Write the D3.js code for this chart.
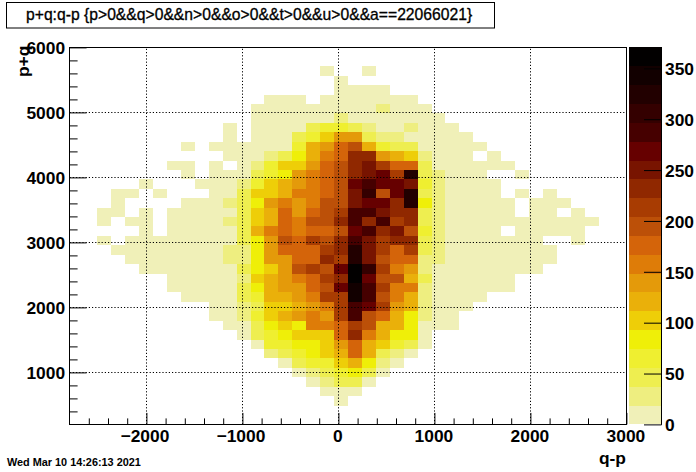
<!DOCTYPE html>
<html>
<head>
<meta charset="utf-8">
<script src="https://cdn.jsdelivr.net/npm/d3@7"></script>
<style>
html,body{margin:0;padding:0;background:#fff}
svg{display:block}
text{font-family:"Liberation Sans",Arial,sans-serif;fill:#000}
</style>
</head>
<body>
<svg id="c" width="696" height="472"></svg>
<script>
const titleText = "p+q:q-p {p>0&&q>0&&n>0&&o>0&&t>0&&u>0&&a==22066021}";
const dateText = "Wed Mar 10 14:26:13 2021";
const xLabel = "q-p";
const yLabel = "p+q";
const xDomain = [-2800, 3000];
const yDomain = [200, 6000];
const zDomain = [0, 370.6];
const binWidth = 145;
const xMajor = [-2000, -1000, 0, 1000, 2000, 3000];
const xMinor = [-2600,-2400,-2200,-1800,-1600,-1400,-1200,-800,-600,-400,-200,200,400,600,800,1200,1400,1600,1800,2200,2400,2600,2800];
const yMajor = [1000, 2000, 3000, 4000, 5000, 6000];
const yMinor = [400,600,800,1200,1400,1600,1800,2200,2400,2600,2800,3200,3400,3600,3800,4200,4400,4600,4800,5200,5400,5600,5800];
const zTicks = [0, 50, 100, 150, 200, 250, 300, 350];
const palette = ["#f0f0b8","#eeee80","#eeee50","#efef30","#efef08","#eece08","#eab00a","#e49a0a","#de7c08","#d4640a","#bc5008","#a83c02","#902800","#781400","#660000","#460000","#340000","#220000","#120000","#020000"];

// first occupied x bin for each y bin, counted from the top row of the plot
const firstBin = [0,0,18,19,19,14,13,13,11,11,8,11,7,8,5,3,3,2,2,5,2,3,4,5,7,7,8,10,10,11,12,13,14,15,16,17,18,19];
// estimated counts per bin, one row per y bin, from the top
const binCounts = [
[],
[],
[9,0,0,9],
[9],
[9,9,9,9],
[9,9,9,0,9,9,9,9,9,9,9],
[9,9,9,9,9,9,9,9,9,28,9,9,9],
[9,9,9,9,9,9,28,9,9,9,9,9,9,9],
[9,0,9,9,9,9,46,65,65,46,28,9,9,28,9,9,9],
[9,0,9,9,9,46,65,102,139,139,46,28,28,9,9,9,9,9],
[9,0,9,9,9,9,9,9,65,120,139,176,195,120,65,46,46,9,9,9,9,9],
[9,9,9,28,46,83,120,157,176,232,232,139,120,102,28,9,9,9,0,9],
[9,9,0,9,0,9,28,65,102,102,139,176,195,232,250,213,176,176,46,9,9,9,9,9,9],
[9,0,9,9,9,46,65,83,139,157,176,195,232,250,269,213,324,46,28,9,9,9,0,0,9],
[9,0,0,0,9,9,9,28,65,102,120,139,157,176,195,269,287,269,269,250,65,28,9,9,9,9],
[9,9,0,9,0,0,0,9,9,46,102,102,120,157,157,176,195,250,306,195,269,324,46,28,9,9,9,9,0,9,0,9],
[9,0,0,0,0,9,9,9,28,46,83,139,157,139,157,195,195,250,269,269,232,324,83,28,9,9,9,9,9,0,9,9,9],
[9,9,0,9,0,9,9,9,9,9,46,102,120,176,139,176,195,213,287,287,250,232,232,46,28,9,9,9,9,9,0,9,9,0,9],
[9,0,9,9,0,9,9,9,9,28,46,102,120,176,157,195,195,232,287,232,287,213,232,46,28,9,9,9,9,9,9,9,9,9,9,9],
[9,0,9,9,9,9,9,46,120,157,176,157,176,176,195,269,287,232,250,195,65,28,9,9,9,9,0,9,9,9,9,9],
[9,0,9,9,9,9,9,9,9,9,46,83,139,195,176,213,195,232,287,250,213,232,232,46,28,9,9,9,9,9,9,9,0,0,9],
[9,9,9,9,9,9,9,9,28,28,83,139,176,176,176,213,232,324,250,213,176,213,46,28,9,9,9,9,9,9,9,9],
[9,9,9,9,9,9,9,28,28,83,139,139,176,176,232,213,324,250,195,176,176,28,28,9,9,9,9,9,9,9,9],
[9,9,9,9,9,9,9,46,83,102,139,195,213,195,269,361,306,213,157,139,28,9,9,9,9,9,9,9,9],
[9,9,9,9,9,28,102,120,139,157,176,213,232,361,269,195,195,120,46,9,9,9,9,9,9],
[9,9,9,9,9,46,83,120,139,139,176,195,269,343,287,213,157,157,28,9,9,9,9,9,9],
[9,9,9,9,46,65,120,120,139,157,213,213,343,287,195,157,120,28,9,9,9,9],
[9,9,28,46,102,102,120,139,157,213,287,269,213,139,120,28,9,9,9],
[9,9,28,65,102,120,139,157,139,213,287,195,176,120,83,28,9,9],
[9,9,46,83,102,83,157,157,176,213,195,120,120,83,9,9,9],
[9,46,65,83,102,102,102,176,232,157,120,83,83,9],
[9,65,65,83,83,102,139,176,120,102,65,46,9],
[28,46,65,83,102,120,176,120,46,28,9],
[9,46,65,65,102,120,83,28,9],
[9,28,46,65,83,46,9],
[9,28,46,46,9],
[9,9,9],
[9]
];

const svg = d3.select("#c");
const frame = {left: 69.6, right: 626.4, top: 47.4, bottom: 424.4};
const barFrame = {left: 629, right: 661.5};
const x = d3.scaleLinear().domain(xDomain).range([frame.left, frame.right]);
const y = d3.scaleLinear().domain(yDomain).range([frame.bottom, frame.top]);
const zBar = d3.scaleLinear().domain(zDomain).range([frame.bottom, frame.top]);
const color = d3.scaleQuantize().domain(zDomain).range(palette);

// heat map cells
const cells = [];
binCounts.forEach((row, j) => row.forEach((v, k) => {
  if (v > 0) cells.push({i: firstBin[j] + k, j, v});
}));
svg.append("g").attr("shape-rendering", "crispEdges").selectAll("rect").data(cells).join("rect")
  .attr("x", d => x(xDomain[0] + d.i * binWidth))
  .attr("width", d => x(xDomain[0] + (d.i + 1) * binWidth) - x(xDomain[0] + d.i * binWidth))
  .attr("y", d => y(yDomain[1] - d.j * binWidth))
  .attr("height", d => y(yDomain[1] - (d.j + 1) * binWidth) - y(yDomain[1] - d.j * binWidth))
  .attr("fill", d => color(d.v));

// grid
const grid = svg.append("g").attr("stroke", "#000").attr("stroke-dasharray", "1.2 2").attr("stroke-width", 1);
grid.selectAll(".v").data(xMajor.slice(0, -1)).join("line").attr("class", "v")
  .attr("x1", d => Math.round(x(d)) + .5).attr("x2", d => Math.round(x(d)) + .5)
  .attr("y1", frame.bottom).attr("y2", frame.top);
grid.selectAll(".h").data(yMajor.slice(0, -1)).join("line").attr("class", "h")
  .attr("y1", d => Math.round(y(d)) + .5).attr("y2", d => Math.round(y(d)) + .5)
  .attr("x1", frame.left).attr("x2", frame.right);

// axes
const axisFont = g => g.selectAll("text").attr("font-size", 17.4).attr("font-weight", "bold")
  .style("font-family", '"Liberation Sans",Arial,sans-serif');
const clean = g => { g.select(".domain").remove(); g.selectAll("line").attr("stroke", "#000"); };
svg.append("g").attr("transform", `translate(0,${frame.bottom})`)
  .call(d3.axisBottom(x).tickValues(xMinor).tickSize(-6).tickFormat("")).call(clean);
svg.append("g").attr("transform", `translate(0,${frame.bottom})`)
  .call(d3.axisBottom(x).tickValues(xMajor).tickSize(-11.5).tickFormat(d3.format("d")))
  .call(clean).call(axisFont)
  .selectAll("text").attr("y", 5).attr("dy", "0.71em").attr("text-anchor", "middle")
  .attr("dx", d => d < 0 ? -2 : -1);
svg.append("g").attr("transform", `translate(${frame.left},0)`)
  .call(d3.axisLeft(y).tickValues(yMinor).tickSize(-8).tickFormat("")).call(clean);
svg.append("g").attr("transform", `translate(${frame.left},0)`)
  .call(d3.axisLeft(y).tickValues(yMajor).tickSize(-17).tickFormat(d3.format("d")))
  .call(clean).call(axisFont)
  .selectAll("text").attr("x", -4.5).attr("dy", "0.36em");

// frame
svg.append("rect").attr("x", 69.5).attr("y", 47.5).attr("width", 557).attr("height", 377)
  .attr("fill", "none").attr("stroke", "#000");

// colour bar
svg.append("g").attr("shape-rendering", "crispEdges").selectAll("rect").data(palette).join("rect")
  .attr("x", barFrame.left).attr("width", barFrame.right - barFrame.left)
  .attr("y", c => zBar(color.invertExtent(c)[1]))
  .attr("height", c => zBar(color.invertExtent(c)[0]) - zBar(color.invertExtent(c)[1]))
  .attr("fill", c => c);
svg.append("g").attr("transform", `translate(${barFrame.right},0)`)
  .call(d3.axisRight(zBar).tickValues(zTicks).tickSize(-17.5).tickFormat(d3.format("d")))
  .call(clean).call(axisFont)
  .selectAll("text").attr("x", 3.5).attr("dy", "0.36em").attr("text-anchor", "start");
svg.append("line").attr("x1", barFrame.right).attr("x2", barFrame.right)
  .attr("y1", frame.top).attr("y2", frame.bottom + .5).attr("stroke", "#000");

// title box and texts
svg.append("rect").attr("x", 6.5).attr("y", 2.5).attr("width", 488).attr("height", 25.5)
  .attr("fill", "#fff").attr("stroke", "#000");
svg.append("text").attr("x", 26).attr("y", 20).attr("font-size", 15.7)
  .attr("stroke", "#000").attr("stroke-width", 0.3).text(titleText);
svg.append("text").attr("x", 626).attr("y", 464.3).attr("text-anchor", "end")
  .attr("font-size", 17.4).attr("font-weight", "bold").text(xLabel);
svg.append("text").attr("transform", "translate(29,77) rotate(-90)")
  .attr("font-size", 17.4).attr("font-weight", "bold").text(yLabel);
svg.append("text").attr("x", 7).attr("y", 466).attr("font-size", 10.87).attr("font-weight", "bold").text(dateText);
</script>
</body>
</html>
